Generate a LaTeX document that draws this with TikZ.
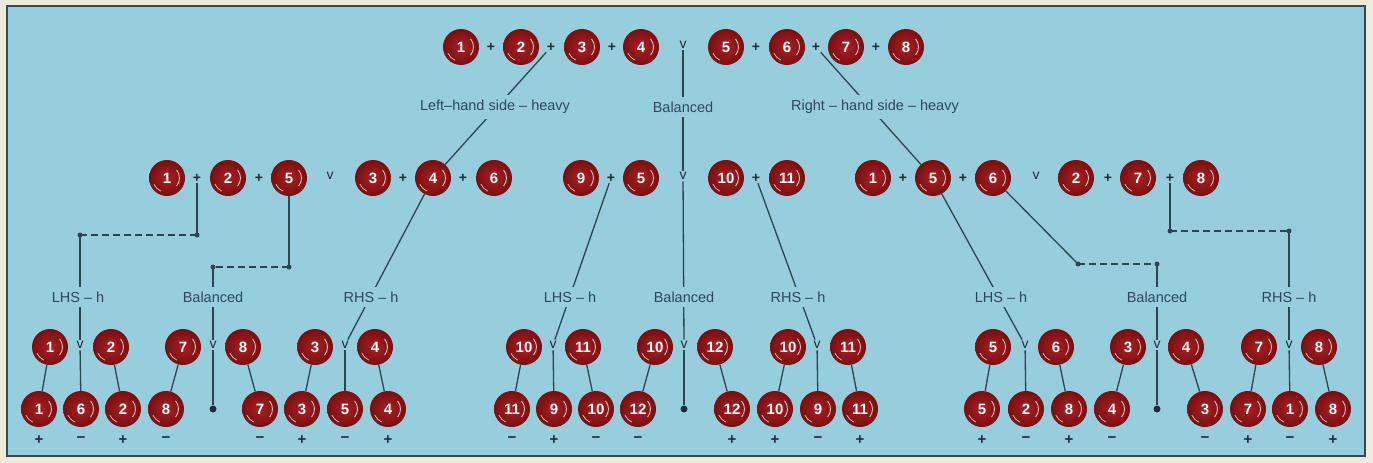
\documentclass[tikz,border=0pt]{standalone}
\usepackage{fontspec}
\setmainfont{Liberation Sans}
\definecolor{bg}{RGB}{150,206,222}
\definecolor{cream}{RGB}{238,235,218}
\definecolor{framec}{RGB}{58,72,86}
\definecolor{ballA}{RGB}{170,32,36}
\definecolor{ballB}{RGB}{122,14,15}
\definecolor{hl}{RGB}{232,196,196}
\definecolor{linec}{RGB}{43,70,82}
\definecolor{labc}{RGB}{45,72,92}
\definecolor{opc}{RGB}{30,45,60}
\begin{document}
\begin{tikzpicture}[x=1pt,y=-1pt,
  ball/.style={circle,minimum size=36pt,inner sep=0pt,shading=radial,inner color=ballA,outer color=ballB,text=white,font=\fontsize{15}{15}\selectfont\bfseries},
  shine/.style={draw=hl,line width=0.9pt},
  op/.style={inner sep=1pt,text=opc,font=\fontsize{14}{14}\selectfont\bfseries},
  vs/.style={inner sep=1.5pt,text=opc,font=\fontsize{14}{14}\selectfont},
  sgn/.style={inner sep=1pt,text=opc,font=\fontsize{15}{15}\selectfont\bfseries},
  lab/.style={fill=bg,inner xsep=2pt,inner ysep=5pt,text=labc,font=\fontsize{14.5}{15}\selectfont},
  con/.style={draw=linec,line width=1.3pt},
  dsh/.style={con,dash pattern=on 7pt off 4pt},
  dot/.style={circle,fill=linec,minimum size=5pt,inner sep=0pt},
  bigdot/.style={circle,fill=opc,minimum size=7pt,inner sep=0pt}]
% background and frame
\fill[cream] (0,0) rectangle (1373,463);
\fill[bg] (7,6) rectangle (1365,456);
\draw[framec,line width=1.2pt] (7,6) rectangle (1365,456);

% ---------- level 1 ----------
\node[ball] (a1) at (461,47) {1};
\node[op]   (p12) at (491,47) {+};
\node[ball] (a2) at (521,47) {2};
\node[op]   (p23) at (551,47) {+};
\node[ball] (a3) at (582,47) {3};
\node[op]   (p34) at (612,47) {+};
\node[ball] (a4) at (641,47) {4};
\node[vs]   (av)  at (683,45) {v};
\node[ball] (a5) at (726,47) {5};
\node[op]   (p56) at (756,47) {+};
\node[ball] (a6) at (787,47) {6};
\node[op]   (p67) at (816,47) {+};
\node[ball] (a7) at (846,47) {7};
\node[op]   (p78) at (876,47) {+};
\node[ball] (a8) at (906,47) {8};

% ---------- level 2 ----------
\node[ball] (b1) at (167,178) {1};
\node[op]   (bp12) at (197,178) {+};
\node[ball] (b2) at (228,178) {2};
\node[op]   (bp25) at (259,178) {+};
\node[ball] (b5) at (289,178) {5};
\node[vs]   (bv) at (330,176) {v};
\node[ball] (b3) at (373,178) {3};
\node[op]   (bp34) at (403,178) {+};
\node[ball] (b4) at (433,178) {4};
\node[op]   (bp46) at (463,178) {+};
\node[ball] (b6) at (494,178) {6};

\node[ball] (c9) at (581,178) {9};
\node[op]   (cp1) at (611,178) {+};
\node[ball] (c5) at (641,178) {5};
\node[vs]   (cv) at (683,176) {v};
\node[ball] (c10) at (726,178) {10};
\node[op]   (cp2) at (756,178) {+};
\node[ball] (c11) at (787,178) {11};

\node[ball] (d1) at (873,178) {1};
\node[op]   (dp15) at (903,178) {+};
\node[ball] (d5) at (933,178) {5};
\node[op]   (dp56) at (963,178) {+};
\node[ball] (d6) at (993,178) {6};
\node[vs]   (dv) at (1036,176) {v};
\node[ball] (d2) at (1076,178) {2};
\node[op]   (dp27) at (1108,178) {+};
\node[ball] (d7) at (1138,178) {7};
\node[op]   (dp78) at (1170,178) {+};
\node[ball] (d8) at (1201,178) {8};

% ---------- level 3 (top) ----------
\node[ball] (e1) at (50,347) {1};
\node[vs]   (ev1) at (80,345) {v};
\node[ball] (e2) at (111,347) {2};
\node[ball] (e3) at (183,347) {7};
\node[vs]   (ev2) at (213,345) {v};
\node[ball] (e4) at (243,347) {8};
\node[ball] (e5) at (315,347) {3};
\node[vs]   (ev3) at (345,345) {v};
\node[ball] (e6) at (375,347) {4};

\node[ball] (e7) at (524,347) {10};
\node[vs]   (ev4) at (553,345) {v};
\node[ball] (e8) at (583,347) {11};
\node[ball] (e9) at (655,347) {10};
\node[vs]   (ev5) at (684,345) {v};
\node[ball] (e10) at (715,347) {12};
\node[ball] (e11) at (788,347) {10};
\node[vs]   (ev6) at (817,345) {v};
\node[ball] (e12) at (848,347) {11};

\node[ball] (e13) at (993,347) {5};
\node[vs]   (ev7) at (1025,345) {v};
\node[ball] (e14) at (1056,347) {6};
\node[ball] (e15) at (1128,347) {3};
\node[vs]   (ev8) at (1157,345) {v};
\node[ball] (e16) at (1186,347) {4};
\node[ball] (e17) at (1259,347) {7};
\node[vs]   (ev9) at (1289,345) {v};
\node[ball] (e18) at (1319,347) {8};

% ---------- level 3 (bottom) ----------
\node[ball] (f1) at (39,409) {1};
\node[ball] (f2) at (81,409) {6};
\node[ball] (f3) at (123,409) {2};
\node[ball] (f4) at (166,409) {8};
\node[bigdot] (f5) at (213,409) {};
\node[ball] (f6) at (260,409) {7};
\node[ball] (f7) at (302,409) {3};
\node[ball] (f8) at (345,409) {5};
\node[ball] (f9) at (388,409) {4};

\node[ball] (f10) at (512,409) {11};
\node[ball] (f11) at (554,409) {9};
\node[ball] (f12) at (596,409) {10};
\node[ball] (f13) at (638,409) {12};
\node[bigdot] (f14) at (684,409) {};
\node[ball] (f15) at (732,409) {12};
\node[ball] (f16) at (775,409) {10};
\node[ball] (f17) at (818,409) {9};
\node[ball] (f18) at (860,409) {11};

\node[ball] (f19) at (982,409) {5};
\node[ball] (f20) at (1026,409) {2};
\node[ball] (f21) at (1069,409) {8};
\node[ball] (f22) at (1112,409) {4};
\node[bigdot] (f23) at (1157,409) {};
\node[ball] (f24) at (1205,409) {3};
\node[ball] (f25) at (1248,409) {7};
\node[ball] (f26) at (1290,409) {1};
\node[ball] (f27) at (1333,409) {8};

% ball highlights
\foreach \n in {a1,a2,a3,a4,a5,a6,a7,a8,b1,b2,b3,b4,b5,b6,c9,c5,c10,c11,d1,d2,d5,d6,d7,d8,
  e1,e2,e3,e4,e5,e6,e7,e8,e9,e10,e11,e12,e13,e14,e15,e16,e17,e18,
  f1,f2,f3,f4,f6,f7,f8,f9,f10,f11,f12,f13,f15,f16,f17,f18,f19,f20,f21,f22,f24,f25,f26,f27}{
  \draw[shine] ([shift={(\n.center)}]-40:12.5pt) arc[start angle=-40,end angle=40,radius=12.5pt];
  \draw[shine,line width=0.7pt] ([shift={(\n.center)}]205:14.5pt) arc[start angle=205,end angle=245,radius=14.5pt];
}

% signs
\node[sgn] (s1) at (39,440) {+};
\node[sgn] (s2) at (81,440) {−};
\node[sgn] (s3) at (123,440) {+};
\node[sgn] (s4) at (166,440) {−};
\node[sgn] (s6) at (260,440) {−};
\node[sgn] (s7) at (302,440) {+};
\node[sgn] (s8) at (345,440) {−};
\node[sgn] (s9) at (388,440) {+};
\node[sgn] (s10) at (512,440) {−};
\node[sgn] (s11) at (554,440) {+};
\node[sgn] (s12) at (596,440) {−};
\node[sgn] (s13) at (638,440) {−};
\node[sgn] (s15) at (732,440) {+};
\node[sgn] (s16) at (775,440) {+};
\node[sgn] (s17) at (818,440) {−};
\node[sgn] (s18) at (860,440) {+};
\node[sgn] (s19) at (982,440) {+};
\node[sgn] (s20) at (1026,440) {−};
\node[sgn] (s21) at (1069,440) {+};
\node[sgn] (s22) at (1112,440) {−};
\node[sgn] (s24) at (1205,440) {−};
\node[sgn] (s25) at (1248,440) {+};
\node[sgn] (s26) at (1290,440) {−};
\node[sgn] (s27) at (1333,440) {+};

% corner dots
\node[dot] (k1) at (197,235) {};
\node[dot] (k2) at (80,235) {};
\node[dot] (k3) at (289,267) {};
\node[dot] (k4) at (213,267) {};
\node[dot] (k5) at (1078,264) {};
\node[dot] (k6) at (1157,264) {};
\node[dot] (k7) at (1170,231) {};
\node[dot] (k8) at (1289,231) {};

% ---------- connectors ----------
\draw[con] (p23) -- (b4);
\draw[con] (av) -- (cv);
\draw[con] (p67) -- (d5);

\draw[con] (bp12) -- (k1.center);
\draw[dsh] (k1.center) -- (k2.center);
\draw[con] (k2.center) -- (ev1);
\draw[con] (b5) -- (k3.center);
\draw[dsh] (k3.center) -- (k4.center);
\draw[con] (k4.center) -- (ev2);
\draw[con] (b4) -- (ev3);

\draw[con] (cp1) -- (ev4);
\draw[con] (cv) -- (ev5);
\draw[con] (cp2) -- (ev6);

\draw[con] (d5) -- (ev7);
\draw[con] (d6) -- (k5.center);
\draw[dsh] (k5.center) -- (k6.center);
\draw[con] (k6.center) -- (ev8);
\draw[con] (dp78) -- (k7.center);
\draw[dsh] (k7.center) -- (k8.center);
\draw[con] (k8.center) -- (ev9);

\foreach \t/\b in {e1/f1,ev1/f2,e2/f3,e3/f4,ev2/f5,e4/f6,e5/f7,ev3/f8,e6/f9,
                   e7/f10,ev4/f11,e8/f12,e9/f13,ev5/f14,e10/f15,e11/f16,ev6/f17,e12/f18,
                   e13/f19,ev7/f20,e14/f21,e15/f22,ev8/f23,e16/f24,e17/f25,ev9/f26,e18/f27}
  \draw[con] (\t) -- (\b);

% ---------- labels ----------
\node[lab] (lL) at (495,107) {Left–hand side – heavy};
\node[lab] (lB) at (683,107) {Balanced};
\node[lab] (lR) at (875,107) {Right – hand side – heavy};

\node[lab] (m1) at (78,297) {LHS – h};
\node[lab] (m2) at (213,297) {Balanced};
\node[lab] (m3) at (371,297) {RHS – h};
\node[lab] (m4) at (570,297) {LHS – h};
\node[lab] (m5) at (684,297) {Balanced};
\node[lab] (m6) at (798,297) {RHS – h};
\node[lab] (m7) at (1001,297) {LHS – h};
\node[lab] (m8) at (1157,297) {Balanced};
\node[lab] (m9) at (1289,297) {RHS – h};
\end{tikzpicture}
\end{document}
